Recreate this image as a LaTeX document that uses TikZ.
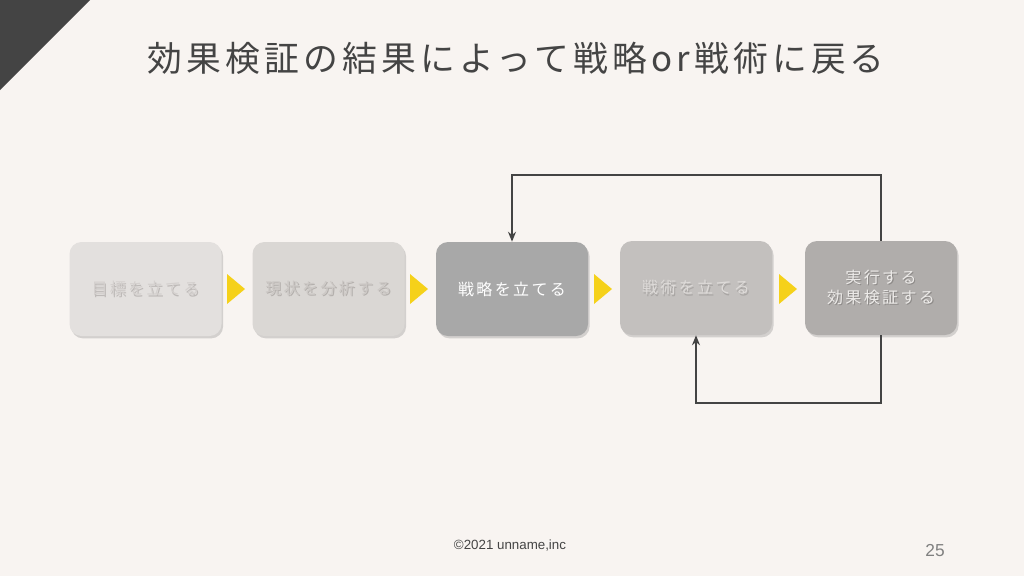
\documentclass[tikz,border=0pt]{standalone}
\usepackage{fontspec}
\setmainfont{Liberation Sans}
\newfontfamily\jpfont[LetterSpace=12]{Noto Sans CJK JP}
\newfontfamily\jpboxfont[LetterSpace=15]{Noto Sans CJK JP}
\usetikzlibrary{shadows,arrows.meta}
\definecolor{bg}{HTML}{F8F4F1}
\definecolor{dark}{HTML}{444444}
\definecolor{yel}{HTML}{F5D11A}
\definecolor{fA}{HTML}{E3E0DE}
\definecolor{tA}{HTML}{D4D0CE}
\definecolor{sA}{HTML}{BDB9B7}
\definecolor{fB}{HTML}{DAD7D4}
\definecolor{tB}{HTML}{CCC8C5}
\definecolor{sB}{HTML}{B4B0AD}
\definecolor{fC}{HTML}{A8A8A8}
\definecolor{tC}{HTML}{FFFFFF}
\definecolor{fD}{HTML}{C3C0BE}
\definecolor{tD}{HTML}{DEDBD9}
\definecolor{sD}{HTML}{A9A6A4}
\definecolor{fE}{HTML}{B0ADAB}
\definecolor{tE}{HTML}{EDEBE9}
\definecolor{sE}{HTML}{8E8B89}
\newcommand{\shline}[3]{\leavevmode\rlap{\hspace{0.8pt}\raisebox{-1.4pt}{\textcolor{#1}{#3}}}\textcolor{#2}{#3}}
\begin{document}
\begin{tikzpicture}[x=0.75pt,y=-0.75pt,
  stepbox/.style={rounded corners=9pt, minimum width=114pt, minimum height=70.5pt,
    inner sep=0pt, drop shadow={shadow xshift=1.2pt, shadow yshift=-1.8pt, opacity=0.25, fill=black!60}},
  boxtext/.style={font=\jpboxfont\fontsize{12}{15}\selectfont, align=center},
  tri/.style={fill=yel, draw=none},
  loop/.style={draw=dark, line width=1.6pt},
  tip/.style={-{Stealth[length=7.5pt,width=6pt]}}
]
\useasboundingbox (0,0) rectangle (1024,576);
\fill[bg] (0,0) rectangle (1024,576);
\fill[dark] (0,0) -- (90,0) -- (0,90) -- cycle;

\node[anchor=west, text=dark, font=\jpfont\fontsize{26.1}{30}\selectfont, inner sep=0pt] (title) at (147,58) {効果検証の結果によって戦略or戦術に戻る};

% boxes
\node[stepbox, fill=fA] (b1) at (145.5,289) {};
\node[stepbox, fill=fB] (b2) at (328.5,289) {};
\node[stepbox, fill=fC] (b3) at (512,289) {};
\node[stepbox, fill=fD] (b4) at (696,288) {};
\node[stepbox, fill=fE] (b5) at (881,288) {};

% texts
\node[boxtext] (t1) at (b1) {\shline{sA}{tA}{目標を立てる}};
\node[boxtext] (t2) at (b2) {\shline{sB}{tB}{現状を分析する}};
\node[boxtext, text=tC] (t3) at (b3) {戦略を立てる};
\node[boxtext] (t4) at (b4) {\shline{sD}{tD}{戦術を立てる}};
\node[boxtext] (t5) at (b5) {\shline{sE}{tE}{実行する}\\\shline{sE}{tE}{効果検証する}};

% yellow triangles
\foreach \x in {227,410,594,779}{
  \fill[tri] (\x,274) -- (\x+18,289) -- (\x,304) -- cycle;
}

% loops
\draw[loop, tip] (b5.north) -- (881,175) -- (512,175) -- (b3.north);
\draw[loop, tip] (b5.south) -- (881,403) -- (696,403) -- (b4.south);

% footer
\node[text=dark, font=\fontsize{10}{12}\selectfont] (foot) at (510,546) {©2021 unname,inc};
\node[text=black!50, font=\fontsize{13}{15}\selectfont] (page) at (935,551) {25};
\end{tikzpicture}
\end{document}
